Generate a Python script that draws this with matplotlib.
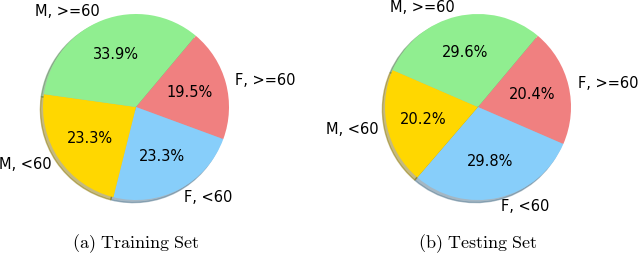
import matplotlib
matplotlib.use("Agg")
import matplotlib.pyplot as plt

plt.rcParams['mathtext.fontset'] = 'cm'

labels = ['F, >=60', 'F, <60', 'M, <60', 'M, >=60']
colors = ['lightcoral', 'lightskyblue', 'gold', 'lightgreen']
train_pct = [19.5, 23.3, 23.3, 33.9]
test_pct = [20.4, 29.8, 20.2, 29.6]
captions = [r'$\mathrm{(a)\ Training\ Set}$', r'$\mathrm{(b)\ Testing\ Set}$']

W, H = 640, 254
fig = plt.figure(figsize=(W / 100, H / 100), dpi=100)

lim = 1.25
r_px = 93
size = 2 * lim * r_px
centers = [(136, 107), (478, 107)]

for (cx, cy), vals, cap in zip(centers, [train_pct, test_pct], captions):
    ax = fig.add_axes([(cx - size / 2) / W, (H - cy - size / 2) / H, size / W, size / H])
    ax.pie(vals, labels=labels, colors=colors, autopct='%1.1f%%', startangle=50,
           counterclock=False, shadow={'ox': -0.02, 'oy': -0.02, 'shade': 0.45},
           textprops={'fontsize': 10.5})
    ax.set_xlim(-lim, lim)
    ax.set_ylim(-lim, lim)
    ax.set_axis_off()
    fig.text(cx / W, 1 - 244 / H, cap, ha='center', va='center', fontsize=13)

fig.savefig('out.png', dpi=100)
